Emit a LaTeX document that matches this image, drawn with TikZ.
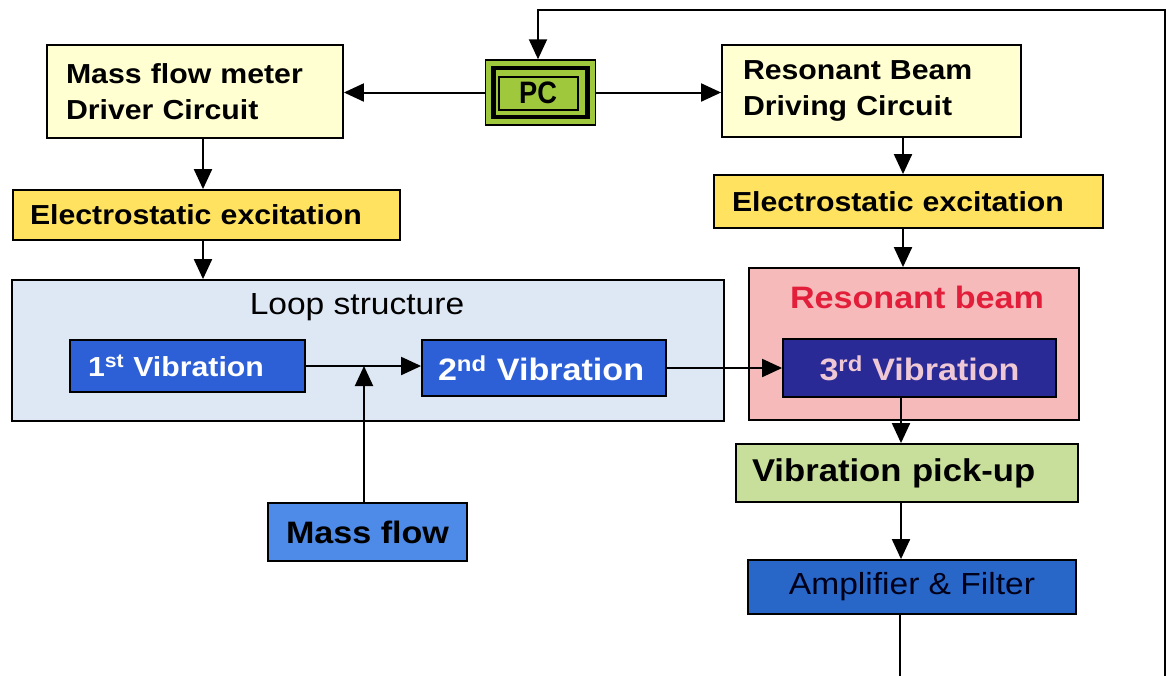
\documentclass[tikz,border=0pt]{standalone}
\usepackage{fontspec}
\setmainfont{Liberation Sans}[FakeStretch=1.1]
\usetikzlibrary{arrows.meta}
\definecolor{lyellow}{RGB}{255,255,210}
\definecolor{eyellow}{RGB}{255,226,95}
\definecolor{loopbg}{RGB}{222,232,244}
\definecolor{vblue}{RGB}{45,95,215}
\definecolor{mfblue}{RGB}{78,138,232}
\definecolor{ampblue}{RGB}{40,102,200}
\definecolor{navy}{RGB}{42,42,150}
\definecolor{vtext}{RGB}{238,200,212}
\definecolor{rbpink}{RGB}{246,186,186}
\definecolor{rbred}{RGB}{226,30,58}
\definecolor{pugreen}{RGB}{200,222,155}
\definecolor{pcgreen}{RGB}{160,200,60}
\tikzset{
  box/.style={draw=black, line width=1.8pt, inner sep=0pt},
  conn/.style={line width=2pt, -{Triangle[length=20pt,width=18pt]}},
  plain/.style={line width=2pt},
  bfs/.style={font=\bfseries\fontsize{#1}{36}\selectfont},
  rgs/.style={font=\fontsize{#1}{36}\selectfont},
}
\begin{document}
\begin{tikzpicture}[x=1pt,y=-1pt]
\useasboundingbox (0,0) rectangle (1169,675);
\clip (0,0) rectangle (1169,675);
\fill[white] (0,0) rectangle (1169,675);

% containers
\node[box, fill=loopbg, minimum width=712pt, minimum height=141pt] (loop) at (368,350.5) {};
\node[rgs=30.5] (loopt) at (357,307) {Loop structure};
\node[box, fill=rbpink, minimum width=330pt, minimum height=152pt] (rb) at (914,344) {};
\node[bfs=31, text=rbred] (rbt) at (917,297) {Resonant beam};

% top row
\node[box, fill=lyellow, minimum width=296pt, minimum height=93pt, text width=258pt, inner xsep=19pt, align=left, bfs=27.5] (mfd) at (195,91.5) {Mass flow meter\\Driver Circuit};
\node[box, fill=lyellow, minimum width=299pt, minimum height=92pt, text width=257pt, inner xsep=21pt, align=left, bfs=27.5] (rbd) at (871.5,91) {Resonant Beam\\Driving Circuit};

% PC
\node[draw=black, line width=1.5pt, fill=pcgreen, minimum width=110pt, minimum height=65pt, inner sep=0pt] (pc) at (540.5,92.5) {};
\node[draw=black, line width=4.5pt, minimum width=94pt, minimum height=49pt, inner sep=0pt] (pcm) at (540.5,92.5) {};
\node[draw=black, line width=2pt, minimum width=79pt, minimum height=33pt, inner sep=0pt, bfs=31] (pci) at (538,93) {\scalebox{0.8}[1]{PC}};

% excitation
\node[box, fill=eyellow, minimum width=387pt, minimum height=50pt, text width=353pt, inner xsep=17pt, align=left, bfs=27.5] (el1) at (206.5,215) {Electrostatic excitation};
\node[box, fill=eyellow, minimum width=389pt, minimum height=53pt, text width=353pt, inner xsep=18pt, align=left, bfs=27.5] (el2) at (908.5,201.5) {Electrostatic excitation};

% vibrations
\node[box, fill=vblue, text=white, minimum width=235pt, minimum height=52pt, text width=199pt, inner xsep=18pt, align=left, bfs=27.5] (v1) at (187.5,366) {1\textsuperscript{st} Vibration};
\node[box, fill=vblue, text=white, minimum width=244pt, minimum height=56pt, text width=212pt, inner xsep=16pt, align=left, bfs=31] (v2) at (544,368) {2\textsuperscript{nd} Vibration};
\node[box, fill=navy, text=vtext, minimum width=273pt, minimum height=58pt, bfs=31] (v3) at (919.5,368) {3\textsuperscript{rd} Vibration};

% lower
\node[box, fill=pugreen, minimum width=342pt, minimum height=58pt, text width=310pt, inner xsep=16pt, align=left, bfs=31.5] (pu) at (907,473) {Vibration pick-up};
\node[box, fill=mfblue, minimum width=199pt, minimum height=58pt, bfs=31] (mf) at (367.5,532) {Mass flow};
\node[box, fill=ampblue, text=black!90!blue, minimum width=328pt, minimum height=54pt, rgs=30.5] (amp) at (912,587) {Amplifier \& Filter};

% column coordinates
\coordinate (colL) at (203,0);
\coordinate (colR) at (903,0);
\coordinate (fbA) at (900,692);
\coordinate (fbB) at (1165,692);
\coordinate (fbC) at (1165,10);

% connectors
\draw[conn] (pc.west) -- (mfd.east |- pc.west);
\draw[conn] (pc.east) -- (rbd.west |- pc.east);
\draw[conn] (mfd.south -| colL) -- (el1.north -| colL);
\draw[conn] (el1.south -| colL) -- (loop.north -| colL);
\draw[conn] (rbd.south -| colR) -- (el2.north -| colR);
\draw[conn] (el2.south -| colR) -- (rb.north -| colR);
\draw[conn] (v1.east) -- (v2.west |- v1.east);
\draw[conn] (mf.north -| 364,0) -- (364,366);
\draw[conn] (v2.east) -- (v3.west |- v2.east);
\draw[plain] (v3.south -| 901,0) -- (rb.south -| 901,0);
\draw[conn] (rb.south -| 901,0) -- (pu.north -| 901,0);
\draw[conn] (pu.south -| 901,0) -- (amp.north -| 901,0);
\draw[conn] (amp.south -| fbA) -- (fbA) -- (fbB) -- (fbC) -- (fbC -| 538,0) -- (pc.north -| 538,0);
\end{tikzpicture}
\end{document}
